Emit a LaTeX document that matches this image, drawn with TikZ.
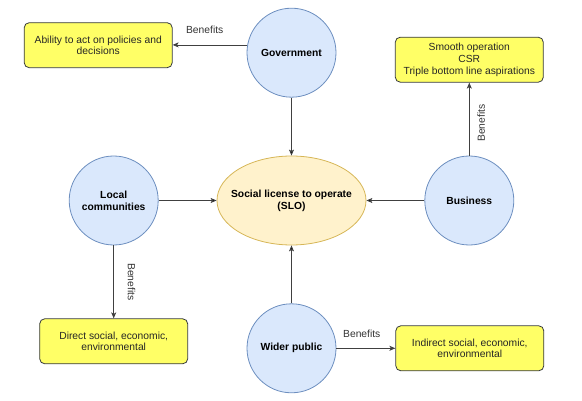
\documentclass[tikz,border=0pt]{standalone}
\usepackage{fontspec}
\setmainfont{Liberation Sans}
\usetikzlibrary{positioning, arrows.meta, shapes.geometric}

\definecolor{actorfill}{HTML}{DAE8FC}
\definecolor{actorline}{HTML}{6C8EBF}
\definecolor{slofill}{HTML}{FFF2CC}
\definecolor{sloline}{HTML}{D6B656}
\definecolor{gainfill}{HTML}{FFFF66}
\definecolor{gainline}{HTML}{36393D}

\begin{document}
\begin{tikzpicture}[->, >={Stealth[length=6pt,width=5pt,inset=1.5pt]}, node distance=58pt,
	font=\fontsize{10.3}{11.7}\selectfont,
	actor/.style={circle, draw=actorline, fill=actorfill, line width=0.8pt, minimum size=89pt, inner sep=0pt, align=center, font=\fontsize{10.3}{11.7}\selectfont\bfseries},
	slo/.style={ellipse, draw=sloline, fill=slofill, line width=0.8pt, minimum width=149pt, minimum height=89pt, inner xsep=-8pt, inner ysep=0pt, align=center, font=\fontsize{10.3}{11.7}\selectfont\bfseries},
	gain/.style={rectangle, rounded corners=5pt, draw=gainline, fill=gainfill, line width=0.8pt, minimum width=148pt, minimum height=45pt, inner sep=0pt, align=center, text=black!85},
	link/.style={draw=black!75, line width=0.8pt},
	benefit/.style={inner sep=0pt, text=black!80}]
	\useasboundingbox (0,0) rectangle (582pt,-401pt);
	\node[slo] (slo) at (291.5pt,-200.5pt) {Social license to operate\\(SLO)};
	\node[actor, above=of slo] (gov) {Government};
	\node[actor, left=of slo] (lc) {Local\\communities};
	\node[actor, right=of slo] (biz) {Business};
	\node[actor, below=of slo] (pub) {Wider public};
	\node[gain, left=74pt of gov, yshift=7.5pt] (ability) {Ability to act on policies and\\decisions};
	\node[gain, above=73pt of biz] (bizgain) {Smooth operation\\CSR\\Triple bottom line aspirations};
	\node[gain, below=73pt of lc] (direct) {Direct social, economic,\\environmental};
	\node[gain, right=59pt of pub] (indirect) {Indirect social, economic,\\environmental};
	\draw[link] (gov) edge (slo)
	(lc) edge (slo)
	(biz) edge (slo)
	(pub) edge (slo);
	\draw[link] (gov.170) -- node[benefit, above=10.5pt, pos=0.57] {Benefits} (gov.170 -| ability.east);
	\draw[link] (biz) -- node[benefit, xshift=7.7pt, rotate=90, anchor=north, pos=0.445] {Benefits} (bizgain);
	\draw[link] (lc) -- node[benefit, xshift=13.7pt, rotate=-90, anchor=south, pos=0.5] {Benefits} (direct);
	\draw[link] (pub) -- node[benefit, above=10.75pt, pos=0.43] {Benefits} (indirect);
\end{tikzpicture}
\end{document}
